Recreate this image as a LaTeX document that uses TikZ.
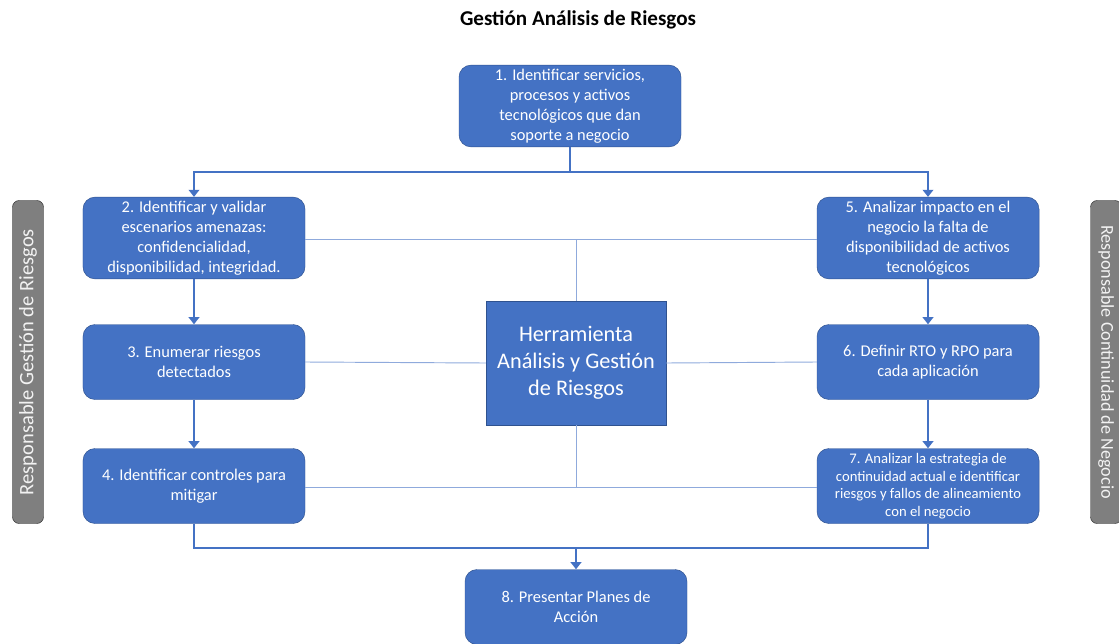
\documentclass[tikz,border=0pt]{standalone}
\usepackage{fontspec}
\setmainfont{Carlito}
\usetikzlibrary{arrows.meta,positioning}
\definecolor{rgblue}{HTML}{4472C4}
\definecolor{rgedge}{HTML}{2F528F}
\definecolor{rglight}{HTML}{8FAADC}
\definecolor{rggray}{HTML}{7F7F7F}

\begin{document}
\begin{tikzpicture}[x=0.03cm, y=-0.03cm,
    stepbox/.style={draw=rgedge, fill=rgblue, rounded corners=0.36cm, text=white, align=center,
      minimum width=6.66cm, minimum height=2.25cm, font=\fontsize{14}{17}\selectfont},
    toolbox/.style={draw=rgedge, fill=rgblue, text=white, align=center,
      minimum width=5.4cm, minimum height=3.72cm, font=\fontsize{19}{23}\selectfont},
    rolebar/.style={draw=black!80, fill=rggray, rounded corners=0.2cm, text=white!90!gray,
      minimum width=9.69cm, minimum height=0.93cm},
    flow/.style={draw=rgblue, line width=2.4pt},
    link/.style={draw=rglight, line width=0.8pt}]
      \useasboundingbox (0,0) rectangle (1119,644);
      \node[font=\bfseries\fontsize{18}{20}\selectfont] (title) at (578, 20) {Gestión Análisis de Riesgos};
      % pasos
      \node[stepbox] (s1) at (570, 106) {1. Identificar servicios,\\procesos y activos\\tecnológicos que dan\\soporte a negocio};
      \node[stepbox] (s2) at (194, 238) {2. Identificar y validar\\escenarios amenazas:\\confidencialidad,\\disponibilidad,  integridad.};
      \node[stepbox] (s3) at (194, 362) {3. Enumerar riesgos\\detectados};
      \node[stepbox] (s4) at (194, 486) {4. Identificar controles para\\mitigar};
      \node[stepbox] (s5) at (928, 238) {5. Analizar impacto en el\\negocio la falta de\\disponibilidad  de activos\\tecnológicos};
      \node[stepbox] (s6) at (928, 362) {6. Definir RTO y RPO para\\cada aplicación};
      \node[stepbox, font=\fontsize{12.5}{15}\selectfont] (s7) at (928, 486) {7. Analizar la estrategia de\\continuidad actual e identificar\\riesgos y fallos de alineamiento\\con el negocio};
      \node[stepbox] (s8) at (576, 607) {8. Presentar Planes de\\Acción};
      \node[toolbox] (tool) at (576, 363) {Herramienta\\Análisis y Gestión\\de Riesgos};
      % responsables
      \node[rolebar, rotate=90, font=\fontsize{17.5}{19}\selectfont] (rgr) at (28, 362) {Responsable Gestión de Riesgos};
      \node[rolebar, rotate=-90, font=\fontsize{15.5}{17}\selectfont] (rcn) at (1106, 362) {Responsable Continuidad de Negocio};
      % lineas finas
      \coordinate (top) at (576, 239);
      \coordinate (bot) at (576, 487);
      \draw[link] (s2.east |- top) -- (s5.west |- top);
      \draw[link] (tool.north) -- (top);
      \draw[link] (s3.east) -- (tool.west);
      \draw[link] (tool.east) -- (s6.west);
      \draw[link] (s4.east |- bot) -- (s7.west |- bot);
      \draw[link] (tool.south) -- (bot);
      % flujo
      \coordinate (split) at (570, 172);
      \coordinate (join) at (576, 548);
      \draw[flow] (s1.south) -- (split);
      \draw[flow, -{Triangle[width=9pt,length=6pt]}] (split) -| (s2.north);
      \draw[flow, -{Triangle[width=9pt,length=6pt]}] (split) -| (s5.north);
      \draw[flow, -{Triangle[width=9pt,length=6pt]}] (s2) -- (s3);
      \draw[flow, -{Triangle[width=9pt,length=6pt]}] (s3) -- (s4);
      \draw[flow, -{Triangle[width=9pt,length=6pt]}] (s5) -- (s6);
      \draw[flow, -{Triangle[width=9pt,length=6pt]}] (s6) -- (s7);
      \draw[flow] (s4.south) |- (join) -| (s7.south);
      \draw[flow, -{Triangle[width=9pt,length=6pt]}] (join) -- (s8.north);
    \end{tikzpicture}
\end{document}
